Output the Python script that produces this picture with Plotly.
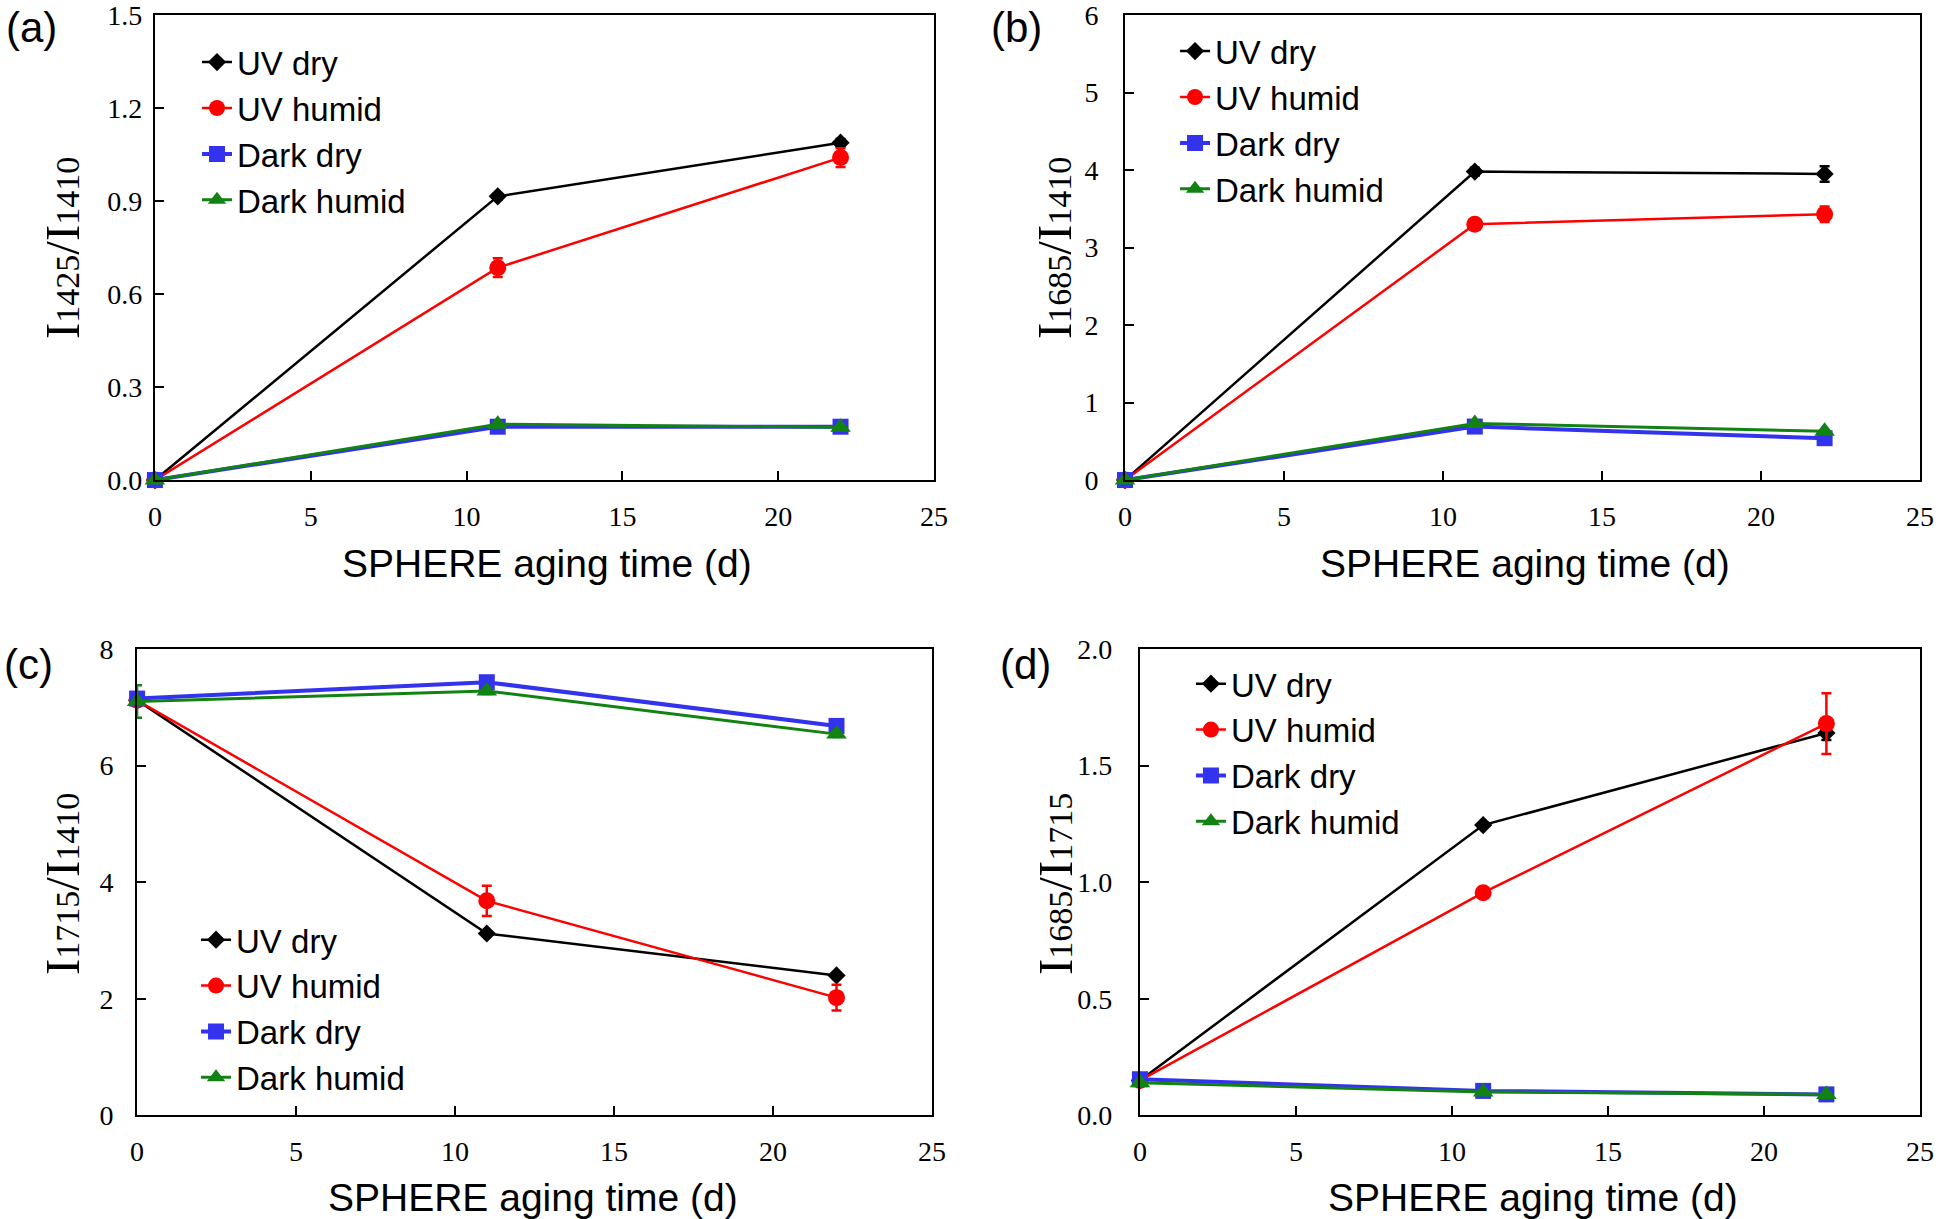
import plotly.graph_objects as go

days = [0, 11, 22]
series_names = ["UV dry", "UV humid", "Dark dry", "Dark humid"]

# Panel (a): I1425/I1410
a_uv_dry = [0.0, 0.915, 1.088]
a_uv_humid = [0.0, 0.685, 1.040]
a_dark_dry = [0.0, 0.172, 0.172]
a_dark_humid = [0.0, 0.180, 0.170]
a_err_uv_dry = [0.0, 0.01, 0.012]
a_err_uv_humid = [0.0, 0.03, 0.03]

# Panel (b): I1685/I1410
b_uv_dry = [0.0, 3.98, 3.95]
b_uv_humid = [0.0, 3.30, 3.43]
b_dark_dry = [0.0, 0.69, 0.54]
b_dark_humid = [0.0, 0.73, 0.63]
b_err_uv_dry = [0.0, 0.05, 0.10]
b_err_uv_humid = [0.0, 0.06, 0.10]

# Panel (c): I1715/I1410
c_uv_dry = [7.12, 3.12, 2.40]
c_uv_humid = [7.12, 3.68, 2.02]
c_dark_dry = [7.15, 7.43, 6.68]
c_dark_humid = [7.10, 7.28, 6.54]
c_err_uv_humid = [0.0, 0.26, 0.22]
c_err_dark_humid = [0.28, 0.05, 0.05]

# Panel (d): I1685/I1715
d_uv_dry = [0.15, 1.245, 1.64]
d_uv_humid = [0.15, 0.955, 1.68]
d_dark_dry = [0.155, 0.105, 0.09]
d_dark_humid = [0.14, 0.10, 0.09]
d_err_uv_dry = [0.0, 0.01, 0.03]
d_err_uv_humid = [0.0, 0.02, 0.13]

colors = ["#000000", "#FF0000", "#3333EE", "#128312"]
symbols = ["diamond", "circle", "square", "triangle-up"]
msizes = [14, 17, 16, 18]
lwidths = [2.5, 2.5, 4, 3]

panels = [
    dict(vals=[a_uv_dry, a_uv_humid, a_dark_dry, a_dark_humid],
         errs=[a_err_uv_dry, a_err_uv_humid, None, None],
         yrange=[0, 1.5], dtick=0.3, fmt=".1f",
         xd=[0.0799, 0.4817], yd=[0.6062, 0.9877], leg=[0.1016, 0.972], sof=5,
         ytitle=("1425", "1410"), label="(a)",
         lab_xy=(31, 27), yt_xy=(62, 248), xt_xy=(547, 563)),
    dict(vals=[b_uv_dry, b_uv_humid, b_dark_dry, b_dark_humid],
         errs=[b_err_uv_dry, b_err_uv_humid, None, None],
         yrange=[0, 6], dtick=1, fmt="d",
         xd=[0.5802, 0.9902], yd=[0.6062, 0.9877], leg=[0.6060, 0.981], sof=19,
         ytitle=("1685", "1410"), label="(b)",
         lab_xy=(1016, 27), yt_xy=(1054, 248), xt_xy=(1525, 563)),
    dict(vals=[c_uv_dry, c_uv_humid, c_dark_dry, c_dark_humid],
         errs=[None, c_err_uv_humid, None, c_err_dark_humid],
         yrange=[0, 8], dtick=2, fmt="d",
         xd=[0.0707, 0.4806], yd=[0.0850, 0.4676], leg=[0.1011, 0.2521], sof=16,
         ytitle=("1715", "1410"), label="(c)",
         lab_xy=(28, 664), yt_xy=(62, 884), xt_xy=(533, 1197)),
    dict(vals=[d_uv_dry, d_uv_humid, d_dark_dry, d_dark_humid],
         errs=[d_err_uv_dry, d_err_uv_humid, None, None],
         yrange=[0, 2.0], dtick=0.5, fmt=".1f",
         xd=[0.5879, 0.9902], yd=[0.0850, 0.4676], leg=[0.6142, 0.4621], sof=20,
         ytitle=("1685", "1715"), label="(d)",
         lab_xy=(1025, 664), yt_xy=(1055, 884), xt_xy=(1533, 1197)),
]

W, H = 1939, 1219
fig = go.Figure()
layout = dict(width=W, height=H, margin=dict(l=0, r=0, t=0, b=0, autoexpand=False),
              paper_bgcolor="white", plot_bgcolor="white", annotations=[])

for pi, p in enumerate(panels):
    n = "" if pi == 0 else str(pi + 1)
    legname = "legend" + n
    for si in range(4):
        err = p["errs"][si]
        fig.add_trace(go.Scatter(
            x=days, y=p["vals"][si], name=series_names[si],
            mode="lines+markers", xaxis="x" + n, yaxis="y" + n,
            legend=legname, cliponaxis=False,
            line=dict(color=colors[si], width=lwidths[si]),
            marker=dict(symbol=symbols[si], size=msizes[si], color=colors[si]),
            error_y=(dict(type="data", array=err, visible=True, color=colors[si],
                          thickness=2.5, width=5) if err is not None else None),
        ))
    layout["xaxis" + n] = dict(
        domain=p["xd"], anchor="y" + n, range=[0, 25], dtick=5, tick0=0,
        showline=True, linecolor="black", linewidth=2, mirror=True,
        ticks="inside", ticklen=9, tickwidth=2, tickcolor="black",
        showgrid=False, zeroline=False, ticklabelstandoff=10, automargin=False,
        ticklabeloverflow="allow",
        tickfont=dict(family="Liberation Serif", size=28, color="black"))
    layout["yaxis" + n] = dict(
        domain=p["yd"], anchor="x" + n, range=p["yrange"], dtick=p["dtick"], tick0=0,
        tickformat=p["fmt"], automargin=False, ticklabeloverflow="allow",
        showline=True, linecolor="black", linewidth=2, mirror=True,
        ticks="inside", ticklen=9, tickwidth=2, tickcolor="black",
        showgrid=False, zeroline=False, ticklabelstandoff=p["sof"],
        tickfont=dict(family="Liberation Serif", size=28, color="black"))
    layout[legname] = dict(
        x=p["leg"][0], y=p["leg"][1], xanchor="left", yanchor="top",
        bgcolor="rgba(0,0,0,0)", font=dict(family="Liberation Sans", size=33, color="black"),
        tracegroupgap=0, itemsizing="trace")
    s1, s2 = p["ytitle"]
    ytxt = ("I<span style='font-size:34px'>%s</span>/I<span style='font-size:34px'>%s</span>"
            % (s1, s2))
    layout["annotations"] += [
        dict(text=p["label"], xref="paper", yref="paper",
             x=p["lab_xy"][0] / W, y=1 - p["lab_xy"][1] / H,
             xanchor="center", yanchor="middle", showarrow=False,
             font=dict(family="Liberation Sans", size=42, color="black")),
        dict(text=ytxt, xref="paper", yref="paper",
             x=p["yt_xy"][0] / W, y=1 - p["yt_xy"][1] / H, textangle=-90,
             xanchor="center", yanchor="middle", showarrow=False,
             font=dict(family="Liberation Serif", size=49, color="black")),
        dict(text="SPHERE aging time (d)", xref="paper", yref="paper",
             x=p["xt_xy"][0] / W, y=1 - p["xt_xy"][1] / H,
             xanchor="center", yanchor="middle", showarrow=False,
             font=dict(family="Liberation Sans", size=39, color="black")),
    ]

fig.update_layout(**layout)
fig.write_html("out.html", config={"displayModeBar": False},
               post_script="document.body.style.margin='0';document.body.style.overflow='hidden';")
